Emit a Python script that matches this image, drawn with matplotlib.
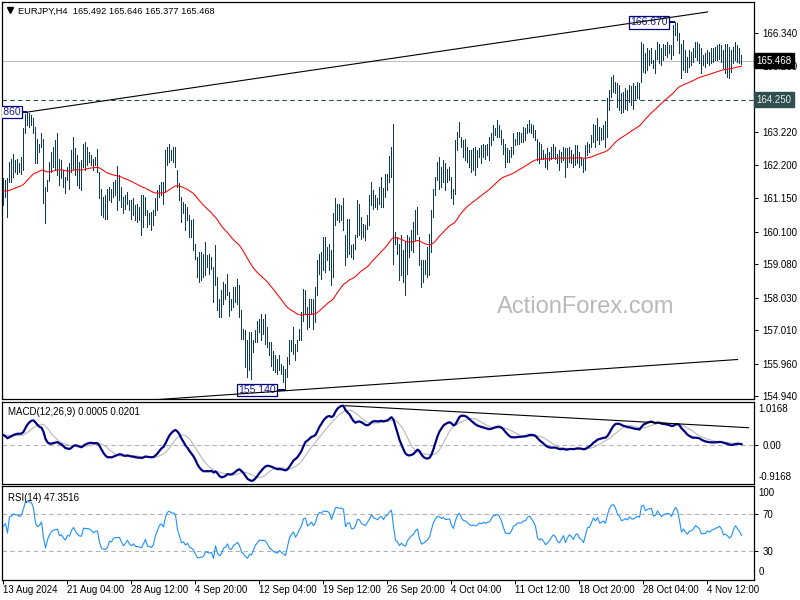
import numpy as np
import pandas as pd
import matplotlib
matplotlib.use("Agg")
import matplotlib.pyplot as plt
import matplotlib.transforms as mtransforms

plt.rcParams['font.family'] = ['Liberation Sans', 'DejaVu Sans']

# EURJPY H4 bars, 13 Aug 2024 20:00 -> 7 Nov 2024 08:00
highs = [
    161.78, 161.72, 161.80, 162.30, 162.40, 162.56, 162.35, 162.40, 162.25, 162.46,
    163.35, 163.80, 163.86, 163.84, 163.76, 163.66, 163.40, 163.03, 162.87, 163.19,
    163.03, 161.51, 161.72, 162.30, 162.61, 162.77, 162.98, 163.19, 162.40, 162.35,
    162.04, 161.83, 162.14, 162.25, 162.66, 163.08, 162.72, 162.51, 162.30, 162.35,
    162.87, 162.93, 162.77, 162.61, 162.51, 162.40, 162.46, 162.69, 161.98, 161.46,
    161.20, 161.25, 161.46, 161.51, 161.46, 161.67, 161.72, 162.16, 161.88, 161.51,
    161.20, 161.25, 161.36, 161.09, 161.09, 161.15, 160.94, 160.99, 160.88, 161.25,
    161.25, 161.20, 160.78, 160.68, 160.73, 160.78, 161.15, 161.41, 161.57, 161.67,
    161.67, 162.66, 162.77, 162.87, 162.66, 162.77, 162.77, 162.04, 161.62, 161.20,
    161.04, 160.99, 160.88, 160.62, 160.47, 160.52, 159.73, 159.31, 159.47, 159.47,
    159.42, 159.79, 159.37, 159.42, 159.31, 159.00, 159.68, 158.69, 158.01, 158.27,
    158.53, 158.48, 158.79, 158.22, 158.01, 158.37, 158.37, 158.64, 158.43, 157.64,
    157.06, 157.01, 156.70, 156.96, 156.96, 156.70, 157.01, 157.32, 157.38, 157.53,
    157.38, 157.53, 157.12, 156.65, 156.65, 156.38, 156.23, 156.12, 156.23, 155.96,
    155.91, 155.81, 156.17, 156.70, 156.70, 157.12, 156.59, 156.70, 157.06, 157.59,
    158.32, 158.27, 157.74, 158.01, 158.01, 158.01, 158.37, 159.21, 159.42, 159.47,
    159.94, 159.94, 159.63, 159.73, 159.52, 160.68, 161.15, 160.99, 160.99, 160.94,
    161.15, 159.99, 160.52, 160.52, 159.68, 159.73, 159.99, 161.10, 160.99, 160.57,
    160.36, 160.31, 160.62, 161.25, 161.67, 161.41, 161.25, 161.15, 161.51, 161.83,
    161.49, 161.91, 161.91, 162.48, 162.77, 163.48, 160.10, 159.94, 159.73, 160.00,
    159.52, 159.79, 160.00, 159.94, 160.15, 160.41, 160.78, 160.88, 159.94, 159.21,
    159.21, 159.21, 159.63, 160.05, 160.78, 161.46, 161.83, 162.30, 162.46, 162.14,
    162.35, 162.25, 162.09, 162.14, 161.83, 161.46, 162.98, 163.24, 163.55, 163.08,
    162.98, 163.03, 162.77, 162.66, 162.66, 162.72, 162.77, 162.66, 162.72, 162.82,
    162.87, 162.82, 162.87, 163.08, 163.19, 163.45, 163.35, 163.61, 163.45, 163.29,
    163.03, 162.87, 162.72, 162.66, 162.77, 163.19, 163.03, 163.24, 163.24, 163.19,
    163.40, 163.35, 163.50, 163.61, 163.50, 163.45, 163.29, 163.03, 162.93, 162.87,
    162.66, 162.56, 162.72, 162.61, 162.77, 162.87, 162.77, 162.56, 162.66, 162.61,
    162.77, 162.72, 162.72, 162.77, 162.66, 162.56, 162.82, 162.82, 162.61, 162.46,
    162.40, 162.82, 162.93, 162.87, 163.14, 163.50, 163.45, 163.66, 163.40, 163.35,
    163.45, 163.57, 164.29, 164.55, 164.97, 165.02, 164.81, 164.76, 164.71, 164.45,
    164.50, 164.60, 164.55, 164.71, 164.67, 164.76, 164.67, 164.81, 164.76, 166.07,
    166.01, 165.70, 165.86, 165.81, 165.86, 165.49, 165.81, 166.07, 166.01, 165.86,
    166.01, 165.96, 166.07, 165.96, 165.96, 166.59, 166.67, 166.64, 166.33, 166.01,
    166.12, 165.81, 165.60, 165.81, 165.75, 165.86, 166.07, 166.07, 166.01, 165.86,
    165.65, 165.70, 165.81, 165.75, 165.86, 165.86, 165.91, 165.96, 166.01, 165.96,
    165.81, 166.01, 166.01, 165.91, 165.81, 165.91, 166.07, 165.96, 165.86, 165.65,
]
lows = [
    160.96, 161.20, 160.57, 161.67, 161.67, 161.83, 161.98, 161.93, 161.98, 161.93,
    162.04, 163.19, 163.45, 163.40, 163.45, 163.19, 162.27, 162.27, 162.61, 162.77,
    161.01, 160.38, 161.39, 161.70, 161.98, 162.14, 162.04, 161.88, 161.57, 161.78,
    161.51, 161.33, 161.72, 161.46, 161.98, 162.09, 161.88, 161.57, 161.49, 161.43,
    162.14, 162.04, 162.19, 162.30, 162.19, 162.04, 162.19, 161.98, 161.17, 160.62,
    160.57, 160.52, 160.52, 161.09, 161.04, 161.20, 161.25, 160.78, 161.09, 160.88,
    160.68, 160.83, 160.99, 160.78, 160.52, 160.62, 160.47, 160.41, 160.47, 160.00,
    160.26, 160.62, 160.26, 160.36, 160.15, 160.31, 160.62, 160.78, 161.20, 161.25,
    160.99, 161.36, 162.19, 162.30, 162.35, 162.30, 162.14, 161.51, 161.09, 160.41,
    160.68, 160.15, 160.47, 159.94, 159.94, 159.52, 159.26, 158.69, 158.53, 158.58,
    158.69, 158.74, 159.00, 158.79, 158.95, 157.90, 158.43, 157.64, 157.43, 157.43,
    157.85, 158.01, 158.11, 157.48, 157.64, 157.74, 157.90, 157.85, 157.43, 156.75,
    156.75, 155.86, 155.55, 155.76, 155.49, 156.33, 156.65, 156.65, 156.96, 156.70,
    156.91, 156.59, 156.49, 156.23, 155.91, 155.76, 155.70, 155.65, 155.76, 155.65,
    155.39, 155.14, 155.55, 155.96, 156.38, 156.28, 156.07, 156.38, 156.70, 156.70,
    157.32, 157.53, 157.06, 157.12, 157.53, 157.06, 157.27, 158.11, 158.79, 158.64,
    158.90, 158.84, 159.21, 158.90, 158.43, 158.69, 160.31, 160.47, 160.41, 160.47,
    160.15, 159.05, 159.31, 159.42, 159.31, 159.26, 159.58, 159.94, 159.99, 159.89,
    159.94, 159.84, 160.20, 160.31, 160.94, 160.83, 160.88, 160.83, 160.99, 160.88,
    160.88, 161.20, 161.43, 161.67, 161.81, 159.10, 159.73, 159.42, 158.58, 158.74,
    158.53, 158.11, 158.79, 159.31, 159.52, 159.47, 159.84, 160.05, 159.05, 158.37,
    158.53, 158.79, 158.69, 158.74, 159.47, 160.57, 161.25, 161.72, 161.46, 161.51,
    161.67, 161.41, 161.67, 161.72, 161.15, 160.99, 161.30, 162.66, 163.08, 162.77,
    162.46, 162.35, 162.30, 162.14, 161.98, 162.04, 161.88, 162.14, 162.46, 162.25,
    162.46, 162.40, 162.51, 162.35, 162.82, 162.98, 163.14, 163.08, 163.08, 162.87,
    162.56, 162.14, 162.30, 162.30, 162.46, 162.56, 162.82, 162.87, 162.87, 162.93,
    162.93, 162.98, 163.19, 163.24, 163.19, 163.08, 162.98, 162.35, 162.25, 162.40,
    162.40, 162.14, 162.09, 162.35, 162.40, 162.46, 162.40, 162.25, 162.04, 162.30,
    162.35, 161.83, 162.14, 162.30, 162.25, 162.14, 162.19, 162.25, 162.14, 162.19,
    161.98, 162.04, 162.51, 162.61, 162.77, 162.93, 162.77, 162.98, 162.87, 162.98,
    163.03, 162.77, 163.08, 163.92, 164.34, 164.50, 164.45, 164.03, 163.92, 163.82,
    163.87, 163.97, 163.92, 164.18, 164.08, 163.97, 164.24, 164.29, 164.27, 164.81,
    165.13, 165.07, 165.18, 165.34, 165.39, 165.23, 165.07, 165.54, 165.39, 165.34,
    165.49, 165.65, 165.60, 165.70, 165.54, 165.65, 166.28, 166.12, 165.70, 164.92,
    165.18, 165.13, 165.13, 165.28, 165.34, 165.44, 165.60, 165.49, 165.39, 165.07,
    165.34, 165.28, 165.39, 165.34, 165.39, 165.44, 165.49, 165.49, 165.54, 165.44,
    165.23, 165.07, 164.97, 164.92, 165.13, 165.39, 165.49, 165.44, 165.39, 165.38,
]

price_ticks = [166.34, 165.29, 164.25, 163.22, 162.20, 161.15, 160.10,
               159.08, 158.03, 157.01, 155.96, 154.94]
date_ticks = [0, 32, 64, 96, 128, 160, 192, 224, 256, 288, 320, 352]
date_labels = ["13 Aug 2024", "21 Aug 04:00", "28 Aug 12:00", "4 Sep 20:00",
               "12 Sep 04:00", "19 Sep 12:00", "26 Sep 20:00", "4 Oct 04:00",
               "11 Oct 12:00", "18 Oct 20:00", "28 Oct 04:00", "4 Nov 12:00"]

last_price = 165.468
level_price = 164.25
# indicator values at the first bar
ma_start = 161.39
fast_start, slow_start, signal_start = 161.62, 161.35, 0.24
gain_start, loss_start = 0.060, 0.045

upper_tl = ([12, 352], [163.86, 167.00])
lower_tl = ([60, 367], [154.77, 156.10])
macd_tl = ([171, 372.5], [0.923, 0.406])
# (right edge bar, price, text, bar of the extreme)
price_labels = [(8.5, 163.86, "163.860", 12), (136, 155.14, "155.140", 141),
                (332, 166.67, "166.670", 336)]

bar_col = '#0e3a5a'
navy = '#000080'

hi = np.array(highs)
lo = np.array(lows)
mid = (hi + lo) / 2
x = np.arange(len(hi))


def ema(values, span, start):
    s = pd.Series(np.r_[start, values]).ewm(span=span, adjust=False).mean()
    return s.values[1:]


ma = ema(mid, 55, ma_start)
macd = ema(mid, 12, fast_start) - ema(mid, 26, slow_start)
signal = pd.Series(np.r_[[signal_start] * 8, macd]).rolling(9).mean().values[8:]

d = np.diff(mid)
ag = pd.Series(np.r_[gain_start, np.clip(d, 0, None)]).ewm(alpha=1 / 14, adjust=False).mean().values
al = pd.Series(np.r_[loss_start, np.clip(-d, 0, None)]).ewm(alpha=1 / 14, adjust=False).mean().values
rsi = 100 * ag / (ag + al)

fig = plt.figure(figsize=(8, 6), dpi=100)
L, W = 2 / 800, 752 / 800
ax = fig.add_axes([L, (600 - 399.3) / 600, W, 397.3 / 600])
axm = fig.add_axes([L, (600 - 484) / 600, W, 82.3 / 600])
axr = fig.add_axes([L, (600 - 579.5) / 600, W, 93.5 / 600])

for a in (ax, axm, axr):
    # 2 px per bar, bar centres on pixel centres
    a.set_xlim(-0.75, 375.25)
    for s in a.spines.values():
        s.set_linewidth(0.9)
        s.set_color('black')
    a.yaxis.tick_right()
    a.tick_params(axis='y', direction='out', length=3, width=0.7, pad=3,
                  labelsize=7, colors='black')
    a.tick_params(axis='x', bottom=False, labelbottom=False)

# ---- price panel
ax.set_ylim(154.852, 167.312)
ax.vlines(x, lo, hi, color=bar_col, lw=0.72, antialiased=False, zorder=3)
ax.plot(x, ma, color='red', lw=0.75, zorder=4)
ax.axhline(last_price, color='#c0c0c0', lw=0.8, zorder=2)
ax.axhline(level_price, color='#2f4f4f', lw=0.8, ls=(0, (4, 3)), zorder=2)
ax.set_yticks(price_ticks)
# the 164.250 level gets its own boxed label below
ax.set_yticklabels(['' if p == level_price else '%.3f' % p for p in price_ticks])

for bx, p, t, bt in price_labels:
    ax.plot([bx, bt], [p, p], color=navy, lw=1.4, zorder=5, solid_capstyle='butt')
    ax.text(bx, p, t, ha='right', va='center', fontsize=7.5, color='#1818a0',
            clip_on=True, zorder=6,
            bbox=dict(boxstyle='square,pad=0.12', fc='white', ec=navy, lw=0.9))
ax.plot(*upper_tl, color='black', lw=0.8, zorder=7)
ax.plot(*lower_tl, color='black', lw=0.8, zorder=7)

tr = mtransforms.blended_transform_factory(ax.transAxes, ax.transData)
ax.text(1.003, last_price, '%.3f' % last_price, transform=tr, ha='left', va='center',
        fontsize=7, color='white', clip_on=False, zorder=10,
        bbox=dict(boxstyle='square,pad=0.25', fc='black', ec='black'))
ax.text(1.003, level_price, '%.3f' % level_price, transform=tr, ha='left', va='center',
        fontsize=7, color='#e8e8e8', clip_on=False, zorder=10,
        bbox=dict(boxstyle='square,pad=0.25', fc='#2f4f4f', ec='#2f4f4f'))

ax.text(0.021, 0.988, 'EURJPY,H4  165.492 165.646 165.377 165.468', transform=ax.transAxes,
        ha='left', va='top', fontsize=6.7)
ax.plot([0.0105], [0.979], marker='v', ms=4, color='black', transform=ax.transAxes,
        clip_on=False)
ax.text(0.776, 0.232, 'ActionForex.com', transform=ax.transAxes, ha='center', va='center',
        fontsize=17, color='#b9b9b9', zorder=1)

# ---- MACD panel
axm.set_ylim(-0.9168, 1.0168)
axm.axhline(0, color='#b0b0b0', lw=0.8, ls=(0, (4, 3)))
axm.plot(x, signal, color='#b8b8b8', lw=0.8)
axm.plot(x, macd, color=navy, lw=1.6)
axm.plot(*macd_tl, color='black', lw=0.8)
axm.set_yticks([0])
axm.set_yticklabels(['0.00'])
axm.text(1.006, 0.91, '1.0168', transform=axm.transAxes, fontsize=7, va='center')
axm.text(1.006, 0.085, '-0.9168', transform=axm.transAxes, fontsize=7, va='center')
axm.text(0.008, 0.93, 'MACD(12,26,9) 0.0005 0.0201', transform=axm.transAxes,
         fontsize=7, va='top')

# ---- RSI panel
axr.set_ylim(0, 100)
for lvl in (70, 30):
    axr.axhline(lvl, color='#b0b0b0', lw=0.8, ls=(0, (4, 3)))
axr.plot(x, rsi, color='#1e90ff', lw=0.8)
axr.set_yticks([70, 30])
axr.set_yticklabels(['70', '30'])
axr.text(1.006, 0.925, '100', transform=axr.transAxes, fontsize=7, va='center')
axr.text(1.006, 0.08, '0', transform=axr.transAxes, fontsize=7, va='center')
axr.text(0.008, 0.93, 'RSI(14) 47.3516', transform=axr.transAxes, fontsize=7, va='top')

axr.tick_params(axis='x', bottom=True, labelbottom=True, direction='out', length=3,
                width=0.7, pad=1, labelsize=7)
axr.set_xticks(date_ticks)
axr.set_xticklabels(date_labels, ha='left')

fig.savefig('out.png', dpi=100)
